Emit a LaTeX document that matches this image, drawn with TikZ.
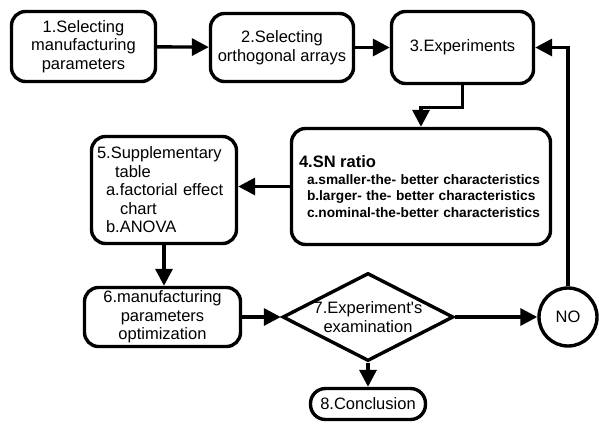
\documentclass[tikz,border=0pt]{standalone}
\usepackage{fontspec}
\setmainfont{Liberation Sans}
\usetikzlibrary{arrows.meta, shapes.geometric}
\tikzset{
	stepbox/.style={draw, line width=3.4pt, rounded corners=14pt, align=center, inner sep=0pt,
			font=\fontsize{16.5}{18.5}\selectfont},
	flow/.style={line width=3.4pt, -{Triangle[length=17pt, width=17pt]}}
}
\begin{document}
\begin{tikzpicture}[x=1pt, y=-1pt]
			\useasboundingbox (0,0) rectangle (599,424);

			\node [stepbox, minimum width=144pt, minimum height=70pt] (n1) at (83.5,46.5)
				{1.Selecting\\manufacturing\\parameters};
			\node [stepbox, minimum width=143pt, minimum height=68pt] (n2) at (282,47.5)
				{2.Selecting\\orthogonal arrays};
			\node [stepbox, minimum width=142pt, minimum height=72pt] (n3) at (462.5,47.5)
				{3.Experiments};
			\node [stepbox, align=left, inner xsep=7.5pt, text width=244pt, minimum height=116pt,
				font=\fontsize{13.7}{16.5}\selectfont\bfseries] (n4) at (421,186.5)
				{{\fontsize{16.5}{18}\selectfont 4.SN ratio}\\
				\hspace*{8pt}a.smaller-the- better characteristics\\
				\hspace*{8pt}b.larger- the- better characteristics\\
				\hspace*{8pt}c.nominal-the-better characteristics};
			\node [stepbox, align=left, inner xsep=5.5pt, text width=134pt, minimum height=107pt] (n5) at (164,190)
				{5.Supplementary\\
				\hspace*{18pt}table\\
				\hspace*{9pt}a.factorial effect\\
				\hspace*{23pt}chart\\
				\hspace*{9pt}b.ANOVA};
			\node [stepbox, minimum width=156pt, minimum height=59pt] (n6) at (162.5,317)
				{6.manufacturing\\parameters\\optimization};
			\node [draw, diamond, line width=3.4pt, aspect=1.93, minimum width=171pt, minimum height=88pt,
				inner sep=-2pt, align=center, font=\fontsize{16.5}{18.5}\selectfont] (n7) at (368,317)
				{7.Experiment\textquotesingle s\\examination};
			\node [draw, circle, line width=3.4pt, minimum size=58pt, inner sep=0pt,
				font=\fontsize{16.5}{18.5}\selectfont] (no) at (568,317) {NO};
			\node [stepbox, rounded corners=15pt, minimum width=115pt, minimum height=31pt] (n8) at (368,404)
				{8.Conclusion};

			\draw [flow] (n1) -- (n2);
			\draw [flow] (n2) -- (n3);
			\draw [flow] (n3.south) -- ++(0,22) -| (n4.north);
			\draw [flow] (n4.west) -- (n4.west -| n5.east);
			\draw [flow] (n5.south) -- (n5.south |- n6.north);
			\draw [flow] (n6) -- (n7);
			\draw [flow] (n7) -- (no);
			\draw [flow] (n7) -- (n8);
			\draw [flow] (no.north) |- (n3.east);
		\end{tikzpicture}
\end{document}
